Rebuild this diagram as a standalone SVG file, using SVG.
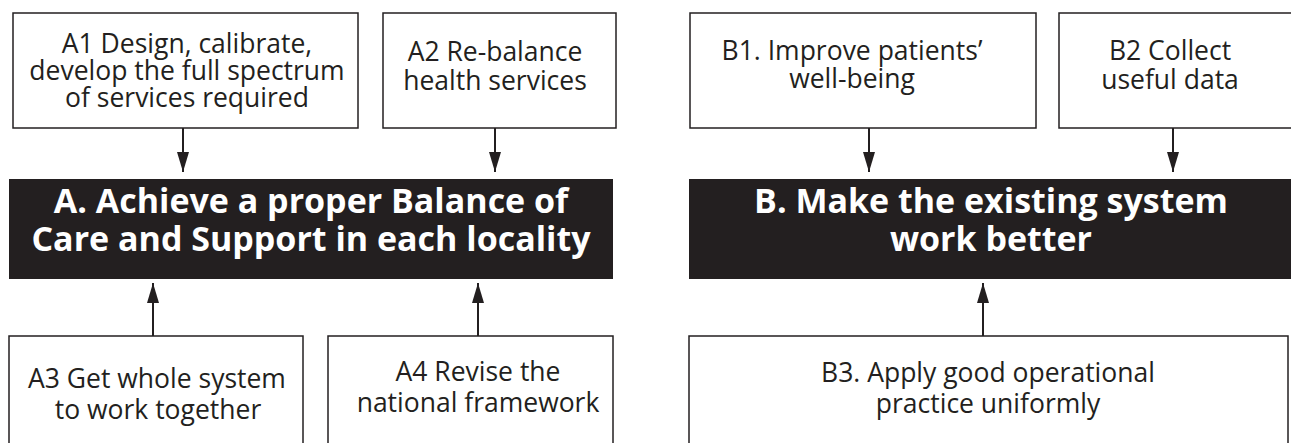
<svg xmlns="http://www.w3.org/2000/svg" width="1291" height="443" viewBox="0 0 1291 443">
<style>
.box{fill:#fff;stroke:#231f20;stroke-width:1.5}
.hub{fill:#231f20;stroke:none}
.t{font-family:"Open Sans","Noto Sans",sans-serif;font-size:26.5px;fill:#231f20;text-anchor:middle}
.h{font-family:"Open Sans","Noto Sans",sans-serif;font-weight:bold;font-size:34px;fill:#fff;text-anchor:middle}
.c{stroke:#231f20;stroke-width:2;fill:none}
</style>
<defs>
<marker id="ah" viewBox="0 0 20 12" refX="20" refY="6" markerWidth="20" markerHeight="12" markerUnits="userSpaceOnUse" orient="auto">
<path d="M0,0 L20,6 L0,12 Z" fill="#231f20"/>
</marker>
</defs>
<rect width="1291" height="443" fill="#fff"/>
<g id="A1"><rect class="box" x="13" y="13" width="345" height="115"/>
<text class="t" x="187" y="53">A1 Design, calibrate,</text>
<text class="t" x="187" y="80">develop the full spectrum</text>
<text class="t" x="187" y="107">of services required</text></g>
<g id="A2"><rect class="box" x="383" y="13" width="233" height="115"/>
<text class="t" x="495" y="61">A2 Re-balance</text>
<text class="t" x="495" y="90">health services</text></g>
<g id="B1"><rect class="box" x="690" y="13" width="346" height="115"/>
<text class="t" x="852" y="60">B1. Improve patients’</text>
<text class="t" x="852" y="88">well-being</text></g>
<g id="B2"><rect class="box" x="1059" y="13" width="240" height="115"/>
<text class="t" x="1170" y="60">B2 Collect</text>
<text class="t" x="1170" y="89">useful data</text></g>
<g id="A"><rect class="hub" x="9" y="179" width="604" height="100"/>
<text class="h" x="311" y="213">A. Achieve a proper Balance of</text>
<text class="h" x="311" y="251">Care and Support in each locality</text></g>
<g id="B"><rect class="hub" x="689" y="179" width="610" height="100"/>
<text class="h" x="991" y="213">B. Make the existing system</text>
<text class="h" x="991" y="251">work better</text></g>
<g id="A3"><rect class="box" x="9" y="336" width="294" height="120"/>
<text class="t" x="157" y="388">A3 Get whole system</text>
<text class="t" x="158" y="419">to work together</text></g>
<g id="A4"><rect class="box" x="328" y="336" width="285" height="120"/>
<text class="t" x="478" y="381">A4 Revise the</text>
<text class="t" x="478" y="412">national framework</text></g>
<g id="B3"><rect class="box" x="689" y="336" width="599" height="120"/>
<text class="t" x="988" y="382">B3. Apply good operational</text>
<text class="t" x="988" y="413">practice uniformly</text></g>
<g id="connectors">
<line class="c" x1="183" y1="128" x2="183" y2="172" marker-end="url(#ah)"/>
<line class="c" x1="495" y1="128" x2="495" y2="172" marker-end="url(#ah)"/>
<line class="c" x1="869" y1="128" x2="869" y2="172" marker-end="url(#ah)"/>
<line class="c" x1="1173" y1="128" x2="1173" y2="172" marker-end="url(#ah)"/>
<line class="c" x1="153" y1="336" x2="153" y2="283" marker-end="url(#ah)"/>
<line class="c" x1="478" y1="336" x2="478" y2="283" marker-end="url(#ah)"/>
<line class="c" x1="983" y1="336" x2="983" y2="283" marker-end="url(#ah)"/>
</g>
</svg>
